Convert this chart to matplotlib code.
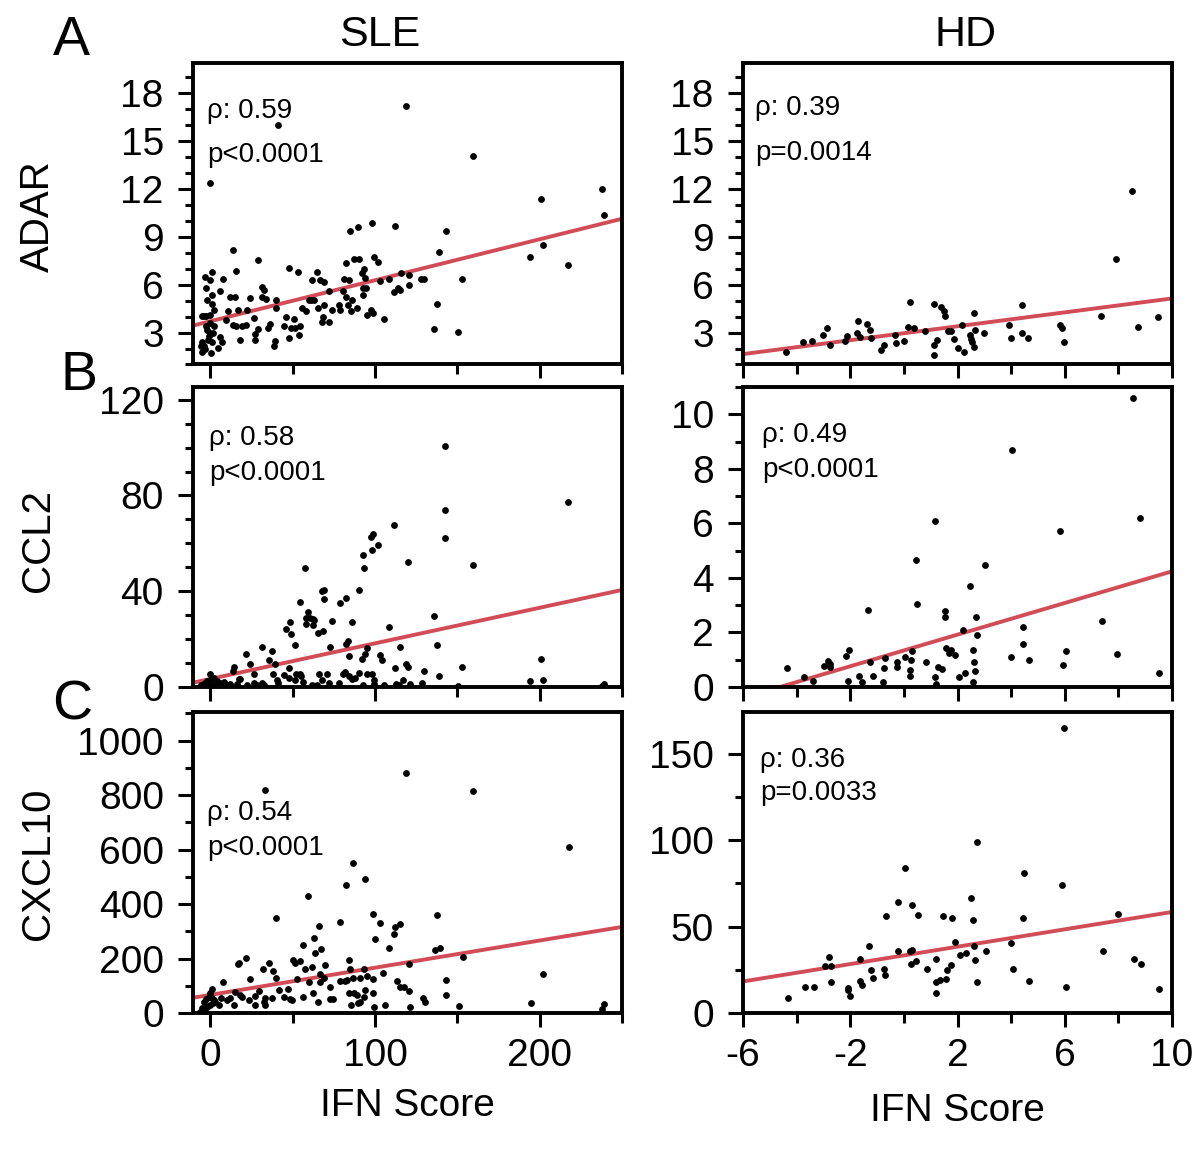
import numpy as np
import matplotlib
matplotlib.use("Agg")
from matplotlib import pyplot as plt
from matplotlib.ticker import FixedLocator, MultipleLocator

plt.rcParams['font.family'] = ['Liberation Sans', 'DejaVu Sans']
plt.rcParams['axes.unicode_minus'] = False

# ---- data ----
# ADAR, SLE
adar_sle_x = [119.0, 41.1, 159.3, 0.0, 237.9, 200.8, 239.3, 98.4, 89.5, 85.0, 111.9, 142.9, 201.8, 138.9,
              194.3, 13.6, 29.1, 217.2, 82.6, 87.4, 90.5, 99.6, 102.0, 47.6, 53.0, 15.8, 1.2, -3.2, -0.4,
              7.5, -2.6, 6.1, 1.2, 12.1, 15.2, 23.9, 31.6, 33.6, 31.4, 32.8, -1.8, 0.8, -5.3, -2.4, 0.0,
              2.0, 10.7, 16.6, 22.3, 9.7, 13.6, 15.8, 19.2, 21.9, 26.3, 17.8, 27.1, 27.1, 28.7, 34.8,
              36.0, 39.1, 38.7, 39.9, 40.1, 44.5, 47.6, 49.0, 51.6, 54.0, 54.7, 45.7, 50.6, 55.7, 58.3,
              59.9, 61.3, 62.8, 61.7, 65.0, 66.4, 69.2, 65.2, 68.4, 67.8, 69.2, 71.9, 71.9, 73.7, 77.9,
              78.5, 81.0, 84.2, 80.8, 82.4, 85.8, 83.8, 85.4, 88.9, 92.7, 92.1, 93.1, 93.7, 92.9, 94.7,
              95.1, 97.8, 98.8, 103.2, 105.7, 108.3, 111.3, 113.8, 115.0, 115.8, 120.4, 120.6, 127.9,
              129.6, 137.7, 135.6, 150.6, 152.8, -5.3, -4.0, -4.9, -3.4, -1.0, 1.0, 0.4, 4.5, 6.9, 6.1,
              -2.0, -0.4, 1.6, -1.2, -2.4, -4.0, 2.0, -5.7, 0.0]
adar_sle_y = [17.2, 16.0, 14.1, 12.4, 12.0, 11.35, 10.4, 9.9, 9.65, 9.35, 9.7, 9.35, 8.5, 8.04,
              7.77, 8.19, 7.52, 7.25, 7.35, 7.6, 7.6, 7.73, 7.42, 7.02, 6.81, 6.85, 6.81, 6.48, 6.31,
              6.38, 5.77, 5.6, 5.35, 5.25, 5.25, 5.17, 5.21, 5.13, 5.83, 5.69, 5.02, 4.79, 4.06, 4.02, 4.13,
              4.4, 4.33, 4.44, 4.4, 3.81, 3.46, 3.44, 3.44, 3.46, 3.9, 2.56, 2.92, 2.56, 3.23, 3.27,
              3.54, 2.5, 2.19, 5.06, 4.52, 3.4, 2.69, 3.29, 3.27, 2.83, 3.4, 3.96, 3.85, 4.54, 4.35,
              5.06, 5.02, 5.06, 6.31, 6.79, 6.31, 6.17, 4.54, 3.96, 3.67, 4.75, 3.65, 5.63, 4.44, 4.75,
              4.4, 6.38, 6.31, 5.6, 5.23, 5.06, 4.75, 4.33, 4.54, 5.38, 6.73, 7.0, 6.42, 5.77, 5.79,
              4.13, 4.44, 4.23, 6.21, 3.85, 6.35, 5.54, 5.79, 5.69, 6.73, 6.63, 5.96, 6.38,
              6.35, 4.81, 3.23, 3.06, 6.35, 2.4, 2.19, 1.77, 1.98, 2.77, 2.4, 1.73, 2.02, 2.4, 2.73,
              3.19, 2.98, 2.98, 2.56, 3.4, 4.02, 3.4, 2.19, 3.6]

# ADAR, HD
adar_hd_x = [-4.41, -3.76, -3.43, -3.01, -2.88, -2.77, -2.18, -2.12, -1.75, -1.72, -1.62, -1.37, -1.27,
             -1.22, -0.84, -0.75, -0.32, -0.29, -0.01, 0.17, 0.24, 0.39, 0.79, 1.11, 1.11, 1.14, 1.24,
             1.39, 1.49, 1.52, 1.66, 1.74, 1.86, 2.02, 2.18, 2.23, 2.45, 2.51, 2.53, 2.61, 2.63, 2.64,
             2.98, 3.93, 4.0, 4.39, 4.41, 4.62, 5.82, 5.88, 5.99, 7.35, 7.91, 8.51, 8.75, 9.46]
adar_hd_y = [1.79, 2.40, 2.50, 2.88, 3.27, 2.23, 2.46, 2.77, 2.98, 3.71, 2.71, 3.54, 3.19,
             2.67, 1.88, 2.21, 2.85, 2.35, 2.5, 3.33, 4.92, 3.27, 3.13, 4.79, 2.21, 1.58, 2.54,
             4.63, 4.38, 4.02, 3.08, 3.08, 2.6, 2.02, 3.46, 1.79, 2.88, 2.6, 2.4, 2.1, 4.23, 3.15,
             3.0, 3.5, 2.69, 4.71, 2.98, 2.65, 3.5, 3.29, 2.38, 4.06, 7.6, 11.9, 3.38, 3.96]

# CCL2, SLE
ccl2_sle_x = [142.7, 217.2, 142.7, 142.7, 111.3, 98.8, 97.6, 102.0, 98.4, 92.7, 93.1, 57.7, 120.2, 159.3,
              90.5, 67.8, 69.2, 68.8, 54.5, 82.2, 78.5, 59.3, 58.3, 60.7, 62.3, 63.2, 48.6, 58.3, 62.3,
              73.9, 86.0, 46.0, 49.0, 68.2, 65.4, 135.6, 108.3, 51.2, 72.9, 82.4, 83.6, 115.0, 95.1,
              137.7, 31.4, 37.4, 21.7, 35.4, 23.9, 39.5, 84.2, 92.1, 93.7, 102.8, 104.5, 119.0, 120.2,
              112.0, 129.6, 152.8, 200.8, 201.8, 194.3, 238.9, 237.9, 14.2, 13.6, 26.3, -0.4,
              2.0, 4.0, 6.1, 8.1, 12.1, 16.2, 17.2, 18.2, 22.3, 26.3, 28.3, 31.4, 32.4, 38.1, 40.5,
              40.9, 44.5, 47.6, 47.6, 51.6, 52.0, 54.7, 55.1, 56.1, 61.7, 64.8, 65.8, 67.8, 70.9, 72.3,
              77.9, 80.6, 82.0, 84.0, 86.0, 88.1, 90.1, 92.5, 95.1, 98.2, 99.2, 99.2, 105.7, 113.0,
              114.4, 117.0, 121.5, 128.3, 138.9, 150.4, -5.7, -4.0, -3.0, -1.0, 0.0, 1.0, -5.1, -2.0,
              0.4, 3.0, 10.1]
ccl2_sle_y = [100.8, 77.1, 74.1, 62.1, 67.8, 63.9, 62.5, 59.4, 57.3, 55.2, 49.7, 49.9, 52.0, 50.9,
              40.6, 40.2, 40.6, 36.7, 35.7, 37.0, 34.9, 31.4, 29.0, 29.0, 28.3, 27.9, 27.3, 26.5, 25.9,
              27.6, 27.3, 24.1, 22.0, 23.4, 22.5, 29.6, 25.1, 17.4, 16.9, 17.9, 19.2, 16.9, 16.2,
              17.4, 16.5, 15.1, 13.7, 11.2, 9.5, 9.5, 13.0, 11.6, 13.7, 13.3, 11.4, 9.8, 8.5,
              7.8, 6.7, 8.4, 11.9, 2.9, 2.5, 1.1, 0.4, 8.4, 6.7, 5.3, 5.6,
              3.9, 2.5, 1.8, 2.1, 1.1, 1.1, 3.5, 3.5, 0.8, 1.8, 0.8, 1.8, 0.8, 5.6, 2.8,
              1.5, 4.9, 7.8, 3.9, 2.9, 5.6, 5.6, 4.6, 2.1, 0.8, 0.8, 5.6, 2.8, 5.3, 1.5,
              1.5, 5.6, 6.3, 4.6, 3.5, 3.9, 6.0, 0.8, 5.6, 5.6, 2.9, 1.1, 0.8, 1.4,
              0.8, 2.9, 1.4, 1.8, 4.6, 0.4, 0.8, 1.1, 1.8, 0.8, 1.4, 0.8, 0.4, 2.5,
              3.2, 0.8, 0.8]

# CCL2, HD
ccl2_hd_x = [8.55, 4.04, 1.16, 8.80, 5.84, 0.46, 3.02, 2.48, -1.32, 0.49, 1.55, 1.55, 2.68, 7.40, 4.44,
             2.22, 2.71, 4.44, 7.96, 6.04, 1.56, 1.74, 1.70, 1.89, 2.56, -2.06, -2.14, -2.83, -2.74,
             -2.97, -2.74, -4.36, -3.71, -3.38, -2.09, -1.67, -1.56, -1.17, -1.25, -0.78, -0.73, -0.71,
             -0.25, -0.25, 0.03, 0.26, 0.29, 0.22, 0.24, 0.84, 1.29, 1.43, 1.16, 1.19, 2.06, 2.27, 2.57,
             2.64, 2.62, 3.98, 4.66, 5.94, 9.51]
ccl2_hd_y = [10.6, 8.69, 6.08, 6.19, 5.72, 4.67, 4.46, 3.72, 2.82, 3.04, 2.80, 2.57, 2.57, 2.41, 2.21,
             2.10, 1.90, 1.56, 1.22, 1.33, 1.42, 1.37, 1.25, 1.16, 1.34, 1.35, 1.12, 0.95, 0.86,
             0.78, 0.72, 0.68, 0.38, 0.21, 0.21, 0.40, 0.18, 0.41, 0.92, 0.19, 0.68, 1.08,
             0.90, 0.72, 1.09, 1.0, 1.31, 0.39, 0.62, 0.90, 0.74, 0.67, 0.35, 0.10, 0.38, 0.50, 0.19,
             0.58, 0.92, 1.11, 0.99, 0.82, 0.52]

# CXCL10, SLE
cxcl10_sle_x = [119.0, 33.0, 159.5, 217.6, 86.4, 94.1, 82.6, 59.3, 40.1, 98.8, 103.2, 137.7, 115.0, 112.3,
                111.7, 99.8, 78.9, 65.8, 62.8, 56.1, 67.4, 63.6, 108.5, 136.2, 139.3, 153.2, 21.9,
                16.6, 17.2, 35.4, 50.2, 51.6, 54.7, 32.0, 38.1, 57.7, 61.7, 69.4, 84.4, 84.6, 93.5,
                120.6, 7.7, 24.3, 40.1, 52.6, 59.7, 66.8, 68.8, 66.8, 78.5, 82.0, 83.0, 86.4, 91.1,
                95.1, 98.6, 105.1, 113.4, 142.9, 201.8, 115.4, 117.4, 120.4, 142.9, 128.9, 130.2,
                151.0, 194.7, 238.9, 237.9, 121.5, 106.3, 99.2, 98.8, 93.1, 94.1, 91.1, 89.5, 85.4,
                87.0, 89.1, 84.0, 72.9, 72.9, 74.3, 65.2, 62.1, 56.1, 47.2, 48.6, 44.5, 49.6, 41.5,
                37.4, 33.0, 33.4, 32.4, 29.6, 26.9, 27.3, 23.3, 19.2, 17.8, 14.2, 12.1, 10.1, 14.8,
                6.7, 5.1, 1.0, -4.0, -2.4, -1.0, 0.0, 1.0, 2.0, -5.1, -3.6, -2.0, 0.0, 1.6, 3.0, -6.1,
                -3.0]
cxcl10_sle_y = [881, 817, 814, 608, 550, 493, 469, 430, 348, 364, 332, 360, 327, 314,
                289, 273, 333, 321, 275, 248, 234, 222, 238, 230, 239, 207, 203,
                180, 183, 183, 195, 183, 191, 161, 156, 161, 170, 176, 195, 161, 161,
                179, 115, 124, 127, 125, 115, 143, 127, 115, 118, 118, 121, 127, 127,
                136, 126, 146, 119, 121, 142, 97, 94, 81, 66, 54, 42,
                27, 36, 33, 16, 21, 29, 21, 72, 60, 85, 42, 36, 29,
                72, 66, 72, 97, 50, 50, 39, 75, 59, 87, 50, 60, 48, 85,
                54, 56, 29, 42, 82, 63, 29, 48, 60, 66, 29, 54, 48, 76,
                54, 29, 87, 42, 50, 60, 72, 54, 48, 17, 11, 23, 29, 36, 42, 5,
                5]

# CXCL10, HD
cxcl10_hd_x = [5.97, 2.71, 0.06, 4.47, 5.88, -0.23, 0.31, 2.51, -0.68, 0.53, 1.45, 1.79, 2.58, 4.45,
               7.98, 1.92, -1.30, 3.98, -0.23, 0.22, 0.31, 2.08, 2.30, 2.61, 3.05, 7.43, -2.80, -2.95,
               -2.70, -1.65, 0.27, 0.47, 1.18, 2.66, 0.87, 1.59, 1.74, -1.22, -1.15, -0.75, -0.69, 4.07,
               8.58, 8.83, -2.72, -1.65, -1.55, 1.19, 1.33, 1.57, 2.73, 4.68, -3.69, -3.35, -2.09, -2.09,
               -2.02, -4.32, 1.20, 6.06, 9.53]
cxcl10_hd_y = [164.6, 99.0, 83.8, 81.2, 74.0, 64.2, 62.7, 66.2, 56.0, 56.9, 56.0, 55.2, 53.7, 55.2,
               57.1, 41.0, 39.0, 40.2, 35.6, 35.6, 36.3, 33.3, 34.4, 39.0, 35.8, 36.0, 32.5, 27.3,
               27.3, 31.0, 28.1, 30.0, 31.5, 30.8, 25.2, 24.8, 27.7, 24.8, 20.2, 25.6, 22.1, 25.4,
               31.3, 28.3, 17.7, 18.5, 16.2, 18.1, 19.0, 19.4, 18.1, 18.5, 15.2, 14.8, 14.2, 13.3,
               10.0, 8.8, 11.7, 14.8, 14.0]

# fitted lines (intercept, slope) and stats text
fit_lines = [(3.71, 0.0257), (2.96, 0.218),
             (3.36, 0.1487), (1.34, 0.29),
             (66.5, 0.998), (33.3, 2.51)]
rho_text = ["ρ: 0.59", "ρ: 0.39", "ρ: 0.58", "ρ: 0.49", "ρ: 0.54", "ρ: 0.36"]
p_text = ["p<0.0001", "p=0.0014", "p<0.0001", "p<0.0001", "p<0.0001", "p=0.0033"]
genes = ["ADAR", "CCL2", "CXCL10"]
groups = ["SLE", "HD"]
panel_letters = ["A", "B", "C"]

# ---- layout ----
W, H = 1200, 1169
fig = plt.figure(figsize=(12, 11.69), dpi=100)

def px_axes(x0, y0, x1, y1):
    return fig.add_axes([x0 / W, 1 - y1 / H, (x1 - x0) / W, (y1 - y0) / H])

col_x = [(193, 622), (743, 1172)]
row_y = [(63, 364.5), (387, 687), (712, 1013)]

xs = [adar_sle_x, adar_hd_x, ccl2_sle_x, ccl2_hd_x, cxcl10_sle_x, cxcl10_hd_x]
ys = [adar_sle_y, adar_hd_y, ccl2_sle_y, ccl2_hd_y, cxcl10_sle_y, cxcl10_hd_y]

ylims = [(1, 19.9), (0, 125.3), (0, 1105)]
ylims_hd = [(1, 19.9), (0, 11.0), (0, 174)]
ymajor = [[3, 6, 9, 12, 15, 18], [0, 40, 80, 120], [0, 200, 400, 600, 800, 1000]]
ymajor_hd = [[3, 6, 9, 12, 15, 18], [0, 2, 4, 6, 8, 10], [0, 50, 100, 150]]
yminor = [1, 10, 100]
yminor_hd = [1, 1, 25]

# text anchors (axes fraction) for the two stat lines
txt_pos = [(0.032, 0.819, 0.672), (0.029, 0.827, 0.678),
           (0.038, 0.806, 0.689), (0.044, 0.817, 0.700),
           (0.032, 0.641, 0.525), (0.040, 0.817, 0.708)]

red = '#d24c57'

for r in range(3):
    for c in range(2):
        i = r * 2 + c
        ax = px_axes(col_x[c][0], row_y[r][0], col_x[c][1], row_y[r][1])
        ax.scatter(xs[i], ys[i], s=24, c='black', linewidths=0, zorder=3)

        if c == 0:
            ax.set_xlim(-10.5, 250)
            ax.xaxis.set_major_locator(FixedLocator([0, 100, 200]))
            ax.xaxis.set_minor_locator(FixedLocator([50, 150, 250]))
            ax.set_ylim(*ylims[r])
            ax.yaxis.set_major_locator(FixedLocator(ymajor[r]))
            ax.yaxis.set_minor_locator(MultipleLocator(yminor[r]))
        else:
            ax.set_xlim(-6, 10)
            ax.xaxis.set_major_locator(FixedLocator([-6, -2, 2, 6, 10]))
            ax.xaxis.set_minor_locator(FixedLocator([-4, 0, 4, 8]))
            ax.set_ylim(*ylims_hd[r])
            ax.yaxis.set_major_locator(FixedLocator(ymajor_hd[r]))
            ax.yaxis.set_minor_locator(MultipleLocator(yminor_hd[r]))

        xl = np.array(ax.get_xlim())
        b0, b1 = fit_lines[i]
        ax.plot(xl, b0 + b1 * xl, color=red, lw=2.8, zorder=2)
        ax.set_xlim(*xl)

        for sp in ax.spines.values():
            sp.set_linewidth(2.8)
        ax.tick_params(axis='both', which='both', direction='out', width=2.2,
                       top=False, right=False)
        ax.tick_params(axis='y', which='major', length=11, pad=10, labelsize=28)
        ax.tick_params(axis='y', which='minor', length=6)
        ax.tick_params(axis='x', which='major', length=10, pad=8, labelsize=28)
        ax.tick_params(axis='x', which='minor', length=7)
        if r < 2:
            ax.tick_params(axis='x', labelbottom=False)
        else:
            ax.set_xlabel("IFN Score", fontsize=28)
            ax.xaxis.set_label_coords(0.5, -0.25 if c == 0 else -0.267)

        tx, ty1, ty2 = txt_pos[i]
        ax.text(tx, ty1, rho_text[i], transform=ax.transAxes, fontsize=20, va='baseline')
        ax.text(tx, ty2, p_text[i], transform=ax.transAxes, fontsize=20, va='baseline')

# column titles, row labels, panel letters
fig.text(380 / W, 1 - 35 / H, groups[0], fontsize=31, ha='center', va='center')
fig.text(965 / W, 1 - 35 / H, groups[1], fontsize=31, ha='center', va='center')
for r, (g, yc) in enumerate(zip(genes, [216, 541, 864])):
    fig.text(38 / W, 1 - yc / H, g, fontsize=29, rotation=90, ha='center', va='center')
for letter, (lx, ly) in zip(panel_letters, [(71, 41), (79, 376), (72, 706)]):
    fig.text(lx / W, 1 - ly / H, letter, fontsize=40, ha='center', va='center')

fig.savefig("out.png", dpi=100)
